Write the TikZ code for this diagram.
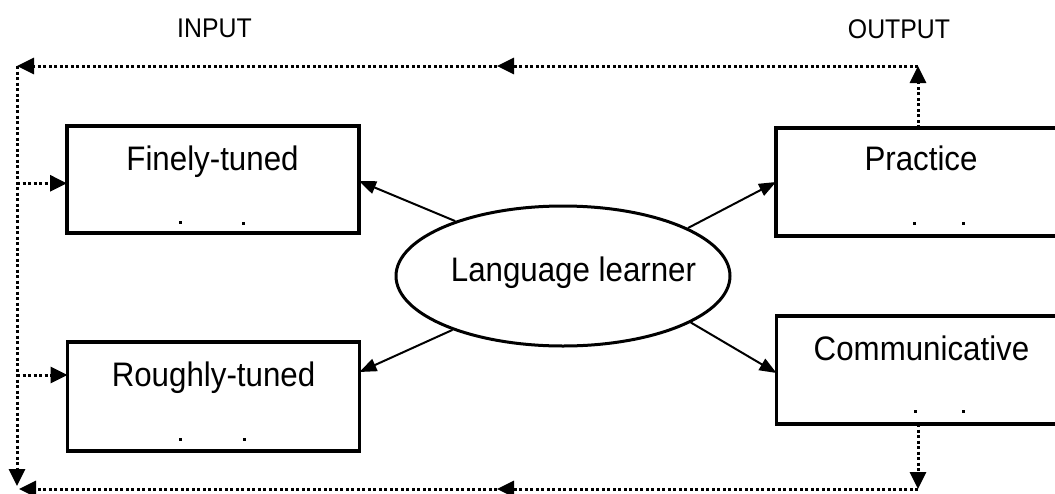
\documentclass[tikz,border=0pt]{standalone}
\usepackage{fontspec}
\setmainfont{Liberation Sans}
\newfontfamily\boxfont[FakeStretch=0.92]{Liberation Sans}
\newfontfamily\headfont[FakeStretch=0.92]{Liberation Sans}
\usetikzlibrary{arrows.meta,shapes.geometric}
\begin{document}
\begin{tikzpicture}[x=1pt,y=-1pt,
  box/.style={draw,line width=3.5pt,minimum width=292pt,minimum height=108pt,inner sep=0pt,outer sep=0pt},
  lbl/.style={font=\boxfont\fontsize{34}{40}\selectfont,anchor=base,inner sep=0pt},
  head/.style={font=\headfont\fontsize{27}{32}\selectfont,anchor=base,inner sep=0pt},
  tinydot/.style={fill,minimum size=3pt,inner sep=0pt},
  fb/.style={line width=3pt,dash pattern=on 3pt off 2.5pt},
  tip/.style={-{Triangle[length=17pt,width=16pt]}},
  link/.style={line width=2pt,-{Triangle[length=17pt,width=13pt]}}]
\useasboundingbox (0,0) rectangle (1055,493);

% boxes
\node[box,minimum height=107pt] (fine) at (213,179.5) {};
\node[box,minimum height=109pt] (rough) at (213.5,396.5) {};
\node[box] (prac) at (922,182) {};
\node[box] (comm) at (922.5,370) {};
\node[draw,ellipse,line width=3pt,minimum width=334pt,minimum height=140pt,inner sep=0pt] (ell) at (563,276) {};

% labels
\node[lbl] (lfine) at (212.5,170) {Finely-tuned};
\node[lbl] (lrough) at (213.5,386.7) {Roughly-tuned};
\node[lbl] (lprac) at (921,170.7) {Practice};
\node[lbl] (lcomm) at (921.5,360) {Communicative};
\node[lbl] (lell) at (573.5,281.7) {Language learner};
\node[head] (in) at (214.5,37.3) {INPUT};
\node[head] (out) at (899,38.3) {OUTPUT};

% small dots
\node[tinydot] (d1) at (180,222.7) {};
\node[tinydot] (d2) at (243,223) {};
\node[tinydot] (d3) at (914,223) {};
\node[tinydot] (d4) at (963,223) {};
\node[tinydot] (d5) at (180,439) {};
\node[tinydot] (d6) at (244,439) {};
\node[tinydot] (d7) at (915,411.7) {};
\node[tinydot] (d8) at (963,411.7) {};

% feedback loop coordinates
\coordinate (tr) at (918,66);
\coordinate (tm) at (497,66);
\coordinate (tl) at (17,66);
\coordinate (blv) at (17,486);
\coordinate (br) at (918,489);
\coordinate (bm) at (497,489);
\coordinate (bl) at (19,489);
\coordinate (fa) at (17,183.3);
\coordinate (ra) at (17,375);

\draw[fb,tip] (tr |- prac.north) -- (tr);
\draw[fb,tip] (tr) -- (tm);
\draw[fb,tip] (tm) -- (tl);
\draw[fb,tip] (tl) -- (blv);
\draw[fb,tip] (br |- comm.south) -- (br);
\draw[fb,tip] (br) -- (bm);
\draw[fb,tip] (bm) -- (bl);
\draw[fb,tip] (fa) -- (fa -| fine.west);
\draw[fb,tip] (ra) -- (ra -| rough.west);

% solid arrows from learner
\draw[link] (ell.153) -- ([yshift=-1.5pt]fine.east);
\draw[link] (ell.206) -- ([yshift=24.5pt]rough.east);
\draw[link] (ell.21) -- (prac.west);
\draw[link] (ell.340) -- ([yshift=-3pt]comm.west);
\end{tikzpicture}
\end{document}
